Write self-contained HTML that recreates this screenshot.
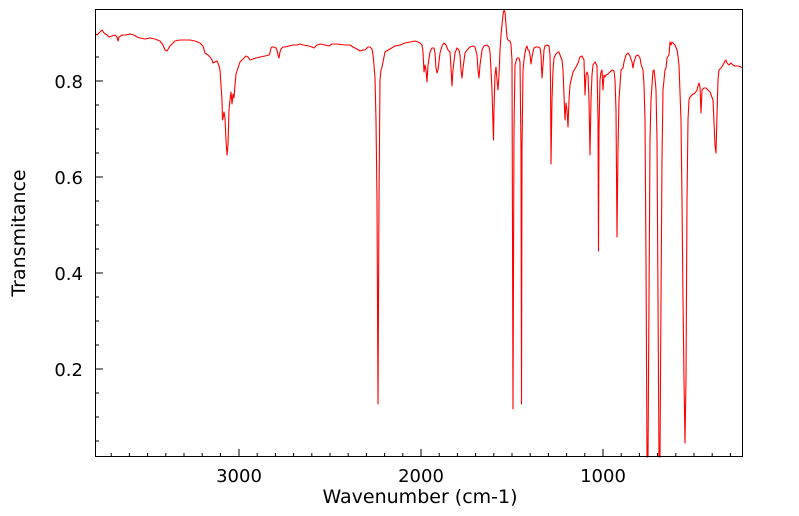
<!DOCTYPE html>
<html><head><meta charset="utf-8"><style>
html,body{margin:0;padding:0;background:#fff;}
svg{display:block;font-family:"DejaVu Sans","Liberation Sans",sans-serif;}
</style></head><body>
<svg width="799" height="516" viewBox="0 0 799 516" xmlns="http://www.w3.org/2000/svg">
<rect width="799" height="516" fill="#fff"/>
<g stroke="#000" stroke-width="1">
<path d="M95,81h8M95,177h8M95,273h8M95,369h8M95,57h4M95,105h4M95,129h4M95,153h4M95,201h4M95,225h4M95,249h4M95,297h4M95,321h4M95,345h4M95,393h4M95,417h4M95,441h4"/>
<path d="M239,457v-8M421,457v-8M603,457v-8
M111.2,457v-4M129.4,457v-4M147.6,457v-4M165.8,457v-4M184,457v-4M202.2,457v-4M220.4,457v-4M257.2,457v-4M275.4,457v-4M293.6,457v-4M311.8,457v-4M330,457v-4M348.2,457v-4M366.4,457v-4M384.6,457v-4M402.8,457v-4M439.2,457v-4M457.4,457v-4M475.6,457v-4M493.8,457v-4M512,457v-4M530.2,457v-4M548.4,457v-4M566.6,457v-4M584.8,457v-4M621.2,457v-4M639.4,457v-4M657.6,457v-4M675.8,457v-4M694,457v-4M712.2,457v-4M730.4,457v-4"/>
</g>
<polyline fill="none" stroke="#ff0000" stroke-width="1.1" stroke-linejoin="round" points="95,33 97,35 100,32 102,30 104,33 107,35 109,37 112,36 115,35 117,37 118,41 119,37 122,35 126,35 130,34 134,35 137,37 140,38 145,39 150,38 155,39 160,41 163,45 165,50 167,51 170,46 175,41 180,40 190,40 195,41 200,43 203,46 205,53 208,55 210,57 212,60 213,63 215,62 217,61 218,63 219,66 220,70 221,85 222,100 222.5,120 223,118 224,112 225,118 226,140 227,155 228,145 229,110 230,100 231,92 232,104 233,94 234,98 235,85 236,74 238,68 240,62 243,59 246,56 248,57 250,60 253,59 256,58 260,57 265,56 269,55 270,53 271,48 272,47 274,47 276,48 277,50 278,55 279,58 280,52 281,49 283,47 285,47 289,46 293,45 297,45 300,44 303,45 309,46 312,47 314,48 317,45 320,44 325,45 329,46 332,44 337,44 345,45 350,45 353,47 357,49 360,51 363,50 365,50 367,48 368,47 370,47 372,49 373,55 374,65 375,78 376,120 377,200 378,404 379,200 380,80 381,70 382,67 383,62 385,52 388,50 390,49 395,46 400,45 405,43 410,42 415,41 418,42 420,43 422,45 423,52 424,72 425,65 426,70 427,82 428,65 430,52 432,48 434,48 435,53 436,68 437,73 438,70 440,53 442,46 444,43 446,45 448,50 450,52 451,68 452,86 453,70 455,53 457,48 459,50 460,55 461,70 462,78 463,68 465,53 467,50 470,47 473,46 475,47 477,55 478,70 479,78 480,65 482,50 484,46 487,45 489,47 490,52 491,70 492,90 493,125 493.5,140 494,110 495,75 496,67 497,80 498,90 499,75 500,50 501,35 502,25 503,15 504,10 505,12 506,25 507,37 508,40 510,41 511,45 512,60 513,409 514,130 515,65 517,58 519,58 520,62 521,150 521.5,404 522,150 523,70 524,60 525,53 526,48 527,46 528,50 529,50 530,55 531,64 532,57 533,52 534,48 536,47 538,47 540,48 541,55 542,78 543,65 544,50 545,46 547,45 549,46 550,55 550.5,80 551,164 552,100 553,70 554,58 556,54 558,52 559,52 560,55 562,60 563,70 565,120 566,103 567,110 568,127 569,100 570,85 573,72 576,67 578,63 580,57 582,56 584,60 585,95 586,75 587,72 588,75 589,100 590,155 591,100 592,75 593,65 595,62 597,66 598,120 598.5,251 599,130 600,80 601,72 602,70 603,90 604,75 605,77 606,75 608,74 610,72 612,70 614,71 615,80 616,110 617,237 618,150 619,100 620,85 621,70 623,68 624,62 626,55 628,53 630,56 632,62 633,68 634,62 636,56 638,55 640,58 641,64 643,70 644,85 645,120 646,260 647,457 648,457 649,300 650,140 651,100 652,85 653,71 654,70 655,78 656,90 657,140 658,300 659,457 660,457 661,300 662,160 663,90 664,80 665,70 666,68 667,58 669,55 670,42 671,45 672,42 675,45 677,50 678,56 679,65 681,120 682,200 683,300 684,380 685,443 686,380 687,200 688,120 689,100 690,97 692,95 695,93 697,90 698,86 699,83 700,87 701,113 702,90 704,88 706,88 708,90 710,92 713,100 715,145 716,153 717,115 718,80 719,70 721,68 723,65 725,61 726,60 727,63 729,65 731,63 733,65 735,66 738,66 741,67 742,68"/>
<rect x="95.5" y="9.5" width="647" height="447" fill="none" stroke="#000" stroke-width="1"/>
<g font-size="18" fill="#000" text-anchor="end">
<text x="83" y="88">0.8</text>
<text x="83" y="184">0.6</text>
<text x="83" y="280">0.4</text>
<text x="83" y="376">0.2</text>
</g>
<g font-size="18" fill="#000" text-anchor="middle">
<text x="239" y="482">3000</text>
<text x="421" y="482">2000</text>
<text x="603" y="482">1000</text>
</g>
<g font-size="19" fill="#000" text-anchor="middle">
<text x="420" y="503">Wavenumber (cm-1)</text>
<text transform="translate(25,233) rotate(-90)">Transmitance</text>
</g>
</svg>
</body></html>
